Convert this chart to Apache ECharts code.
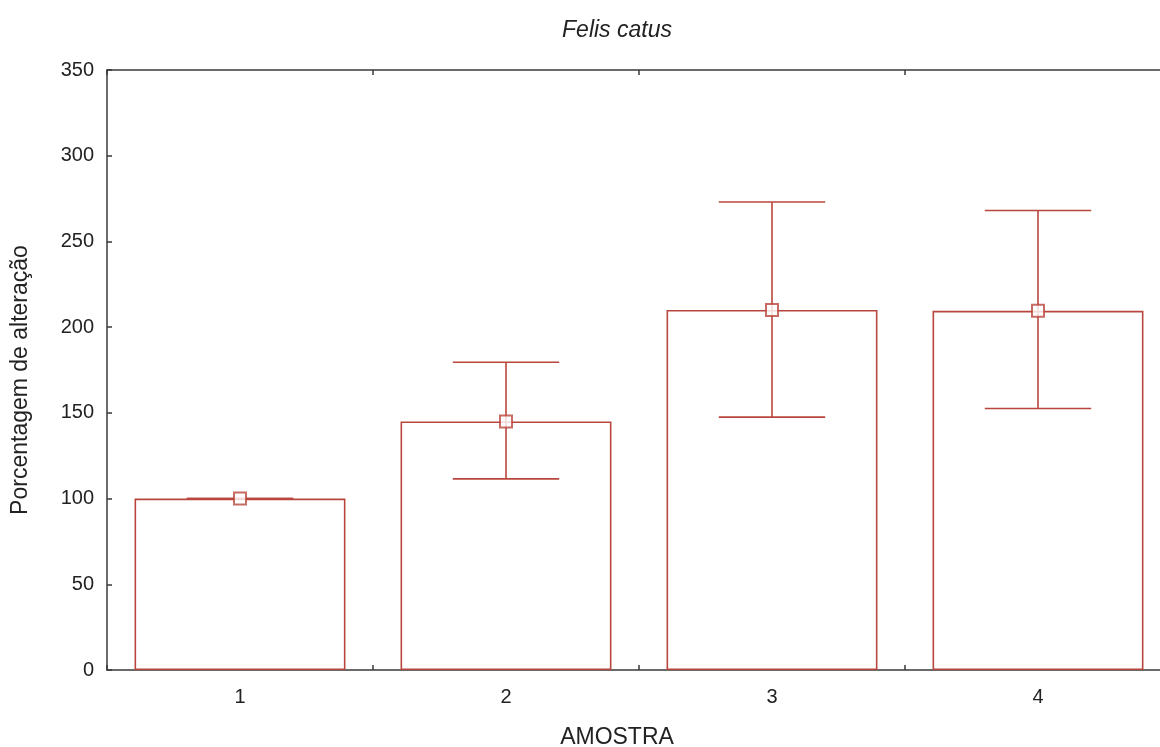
<!DOCTYPE html>
<html>
<head>
<meta charset="utf-8">
<script src="https://cdn.jsdelivr.net/npm/echarts@6/dist/echarts.min.js"></script>
<style>html,body{margin:0;padding:0;background:#fff;}#c{width:1160px;height:747px;}</style>
</head>
<body>
<div id="c"></div>
<script>
var categories = ['1', '2', '3', '4'];
var means = [100, 145, 210, 209.5];
var lowerErr = [100, 111.5, 147.5, 152.5];
var upperErr = [100, 179.5, 273, 268];
var yTicks = [0, 50, 100, 150, 200, 250, 300, 350];

var RED = '#b9463d';
var AX = '#3a3a3a';
var FONT = 'Liberation Sans, Arial, sans-serif';
var chart = echarts.init(document.getElementById('c'), null, {renderer: 'canvas'});

var errData = categories.map(function (c, i) { return [i, lowerErr[i], upperErr[i]]; });

var option = {
  animation: false,
  backgroundColor: '#fff',
  graphic: [{
    type: 'text', x: 617, y: 31,
    style: {text: 'Felis catus', textAlign: 'center', textVerticalAlign: 'middle',
      font: 'italic 23px ' + FONT, fill: '#222'}
  }],
  grid: {left: 107, top: 70, width: 1064, height: 600, show: false, outerBoundsMode: 'none', containLabel: false},
  xAxis: [{
    type: 'category', data: categories, position: 'bottom',
    name: 'AMOSTRA', nameLocation: 'middle', nameGap: 56,
    nameTextStyle: {fontFamily: FONT, fontSize: 23, color: '#222', padding: [0, 44, 0, 0]},
    axisLine: {show: true, lineStyle: {color: AX, width: 1.5}},
    axisTick: {show: true, inside: true, length: 5, lineStyle: {color: AX, width: 1.5}},
    axisLabel: {fontFamily: FONT, fontSize: 20, color: '#222', margin: 17},
    splitLine: {show: false}
  }, {
    type: 'category', data: categories, position: 'top',
    axisLine: {show: true, lineStyle: {color: AX, width: 1.5}},
    axisTick: {show: true, inside: true, length: 5, lineStyle: {color: AX, width: 1.5}},
    axisLabel: {show: false}, splitLine: {show: false}
  }],
  yAxis: {
    type: 'value', min: 0, max: 350, interval: 50,
    name: 'Porcentagem de alteração', nameLocation: 'middle', nameGap: 75, nameRotate: 90,
    nameTextStyle: {fontFamily: FONT, fontSize: 23, color: '#222', padding: [0, 20, 0, 0]},
    axisLine: {show: true, lineStyle: {color: AX, width: 1.5}},
    axisTick: {show: true, inside: true, length: 5, lineStyle: {color: AX, width: 1.5}},
    axisLabel: {fontFamily: FONT, fontSize: 20, color: '#222', margin: 13,
      formatter: function (v) { return yTicks.indexOf(v) >= 0 ? String(v) : ''; }},
    splitLine: {show: false}
  },
  series: [{
    type: 'bar', data: means, barCategoryGap: '20.7%',
    itemStyle: {color: '#fff', borderColor: RED, borderWidth: 1.6},
    z: 2
  }, {
    type: 'custom', data: errData, z: 3,
    renderItem: function (params, api) {
      var x = api.value(0);
      var lo = api.coord([x, api.value(1)]);
      var hi = api.coord([x, api.value(2)]);
      var bw = api.size([1, 0])[0] * 0.4;
      var st = {stroke: RED, lineWidth: 1.6};
      return {type: 'group', children: [
        {type: 'line', shape: {x1: hi[0], y1: hi[1], x2: lo[0], y2: lo[1]}, style: st},
        {type: 'line', shape: {x1: hi[0] - bw / 2, y1: hi[1], x2: hi[0] + bw / 2, y2: hi[1]}, style: st},
        {type: 'line', shape: {x1: lo[0] - bw / 2, y1: lo[1], x2: lo[0] + bw / 2, y2: lo[1]}, style: st}
      ]};
    }
  }, {
    type: 'scatter', data: means, symbol: 'rect', symbolSize: 12, z: 4,
    itemStyle: {color: '#fff', borderColor: RED, borderWidth: 2}
  }]
};
chart.setOption(option);
</script>
</body>
</html>
